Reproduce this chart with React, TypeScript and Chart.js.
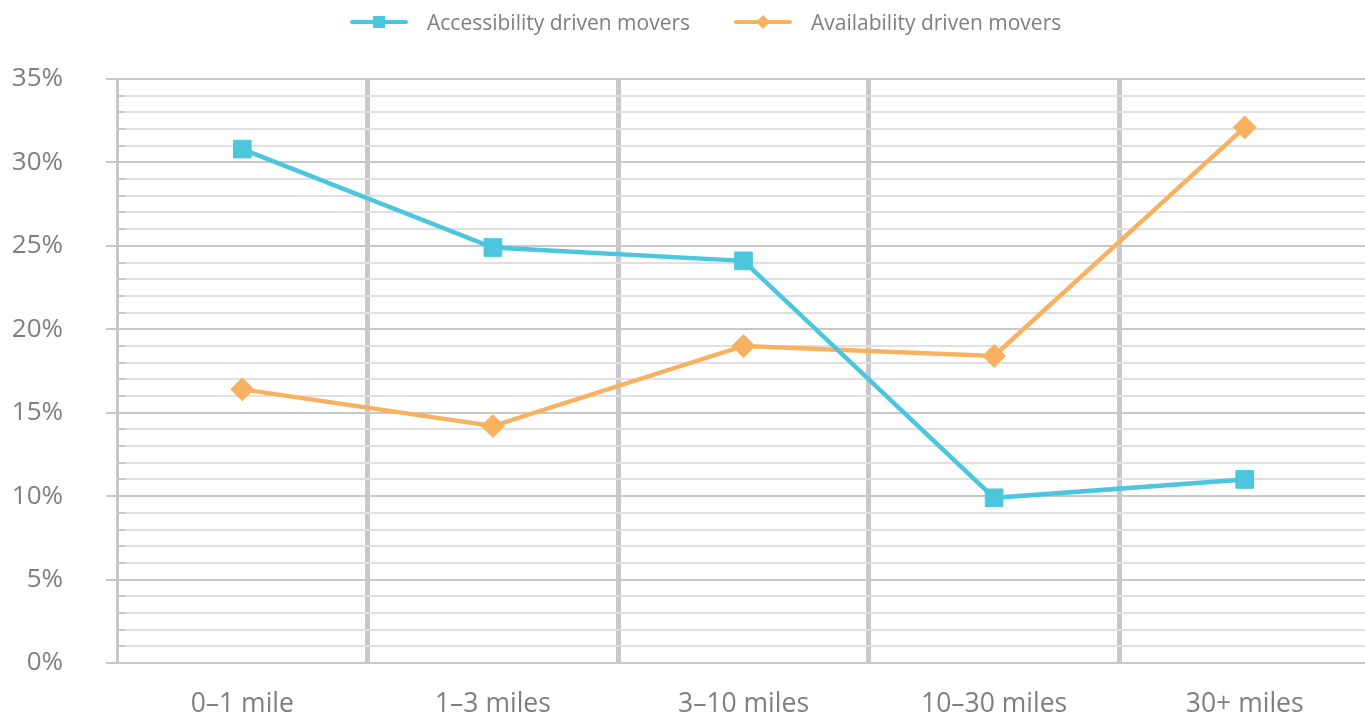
import React, { useEffect, useRef } from "react";
import { Chart, registerables } from "chart.js";

Chart.register(...registerables);

const categories = ["0–1 mile", "1–3 miles", "3–10 miles", "10–30 miles", "30+ miles"];
const accessibility = [30.8, 24.9, 24.1, 9.9, 11.0];
const availability = [16.4, 14.2, 19.0, 18.4, 32.1];
const seriesNames = ["Accessibility driven movers", "Availability driven movers"];
const yMax = 35;

const CYAN = "#4cc6dc";
const ORANGE = "#f8b160";
const GRID_MAJOR = "#c8c8c8";
const GRID_MINOR = "#e0e0e0";
const TEXT = "#7f7f7f";
const FONT = "'Open Sans', sans-serif";

const minorTicksPlugin = {
  id: "minorTicks",
  beforeDatasetsDraw(chart: any) {
    const y = chart.scales.y;
    const left = chart.chartArea.left;
    const ctx = chart.ctx;
    ctx.save();
    ctx.strokeStyle = GRID_MAJOR;
    ctx.lineWidth = 2;
    y.ticks.forEach((t: any) => {
      if (t.value % 5 !== 0) {
        const py = Math.round(y.getPixelForValue(t.value));
        ctx.beginPath();
        ctx.moveTo(left, py);
        ctx.lineTo(left + 8, py);
        ctx.stroke();
      }
    });
    ctx.restore();
  },
};

function LegendItem({ color, label, shape }: { color: string; label: string; shape: "square" | "diamond" }) {
  return (
    <div style={{ display: "flex", alignItems: "center", marginRight: 44 }}>
      <div style={{ position: "relative", width: 58, height: 20, marginRight: 19 }}>
        <div style={{ position: "absolute", left: 0, right: 0, top: 8, height: 4, borderRadius: 2, background: color }} />
        <div
          style={{
            position: "absolute",
            left: shape === "square" ? 23 : 24,
            top: shape === "square" ? 4 : 5,
            width: shape === "square" ? 12 : 10,
            height: shape === "square" ? 12 : 10,
            background: color,
            transform: shape === "diamond" ? "rotate(45deg)" : undefined,
          }}
        />
      </div>
      <span style={{ fontFamily: FONT, fontSize: 21, color: TEXT, whiteSpace: "nowrap" }}>{label}</span>
    </div>
  );
}

export default function App() {
  const ref = useRef<HTMLCanvasElement>(null);
  useEffect(() => {
    if (!ref.current) return;
    const chart = new Chart(ref.current, {
      type: "line",
      data: {
        labels: categories,
        datasets: [
          {
            label: seriesNames[0],
            data: accessibility,
            borderColor: CYAN,
            backgroundColor: CYAN,
            borderWidth: 4.5,
            pointStyle: "rect",
            pointRadius: 12.5,
            pointBorderWidth: 1,
            tension: 0,
          },
          {
            label: seriesNames[1],
            data: availability,
            borderColor: ORANGE,
            backgroundColor: ORANGE,
            borderWidth: 4.5,
            pointStyle: "rectRot",
            pointRadius: 11.5,
            pointBorderWidth: 1,
            tension: 0,
          },
        ],
      },
      options: {
        animation: false,
        responsive: false,
        layout: { autoPadding: false, padding: { top: 79, left: 0, right: 0, bottom: 0 } },
        plugins: { legend: { display: false }, tooltip: { enabled: false } },
        scales: {
          x: {
            offset: true,
            grid: {
              offset: true,
              drawTicks: false,
              color: GRID_MAJOR,
              lineWidth: (c: any) => (c.index === 0 ? 0 : 5),
            },
            border: { display: false },
            ticks: { color: TEXT, font: { family: FONT, size: 26.5 }, padding: 26 },
            afterFit(s: any) {
              s.height = 51;
              s.paddingLeft = 0;
              s.paddingRight = 0;
            },
          },
          y: {
            min: 0,
            max: yMax,
            ticks: {
              stepSize: 1,
              autoSkip: false,
              color: TEXT,
              font: { family: FONT, size: 26 },
              padding: 43,
              callback: (v: any) => (Number(v) % 5 === 0 ? `${v}%` : ""),
            },
            grid: {
              color: (c: any) => (c.tick && c.tick.value % 5 === 0 ? GRID_MAJOR : GRID_MINOR),
              tickColor: (c: any) => (c.tick && c.tick.value % 5 === 0 ? GRID_MAJOR : "rgba(0,0,0,0)"),
              lineWidth: 2,
              tickLength: 11,
            },
            border: { display: true, color: GRID_MAJOR, width: 3 },
            afterFit(s: any) {
              s.width = 117;
              s.paddingTop = 0;
              s.paddingBottom = 0;
            },
          },
        },
      },
      plugins: [minorTicksPlugin],
    });
    return () => chart.destroy();
  }, []);

  return (
    <div style={{ position: "absolute", left: 0, top: 0, width: 1365, height: 714, overflow: "hidden", background: "#fff" }}>
      <div style={{ position: "absolute", left: 350, top: 8, display: "flex", zIndex: 1 }}>
        <LegendItem color={CYAN} label={seriesNames[0]} shape="square" />
        <LegendItem color={ORANGE} label={seriesNames[1]} shape="diamond" />
      </div>
      <canvas ref={ref} width={1370} height={714} style={{ display: "block" }} />
    </div>
  );
}
